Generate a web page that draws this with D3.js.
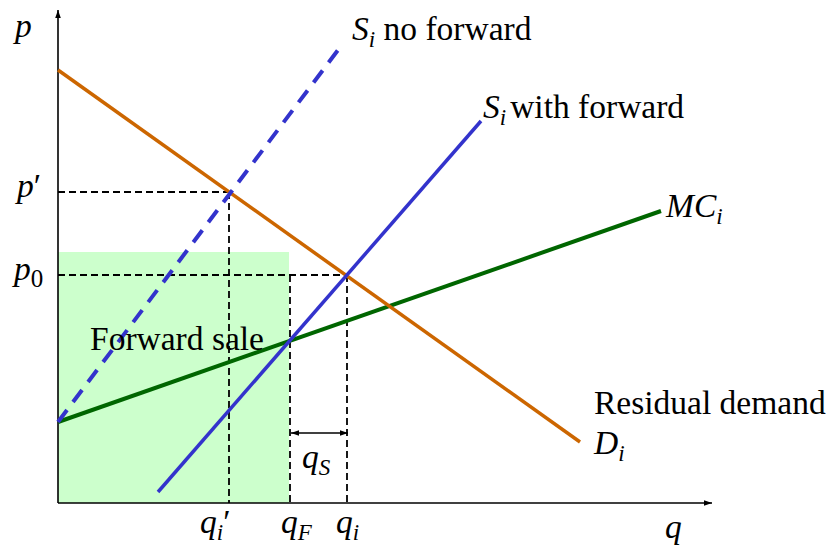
<!DOCTYPE html>
<html>
<head>
<meta charset="utf-8">
<script src="https://cdn.jsdelivr.net/npm/d3@7"></script>
<style>
  body { margin: 0; background: #fff; }
  text { font-family: "Liberation Serif", "Times New Roman", serif; fill: #000; }
</style>
</head>
<body>
<svg id="chart"></svg>
<script>
// canvas
let width = 829, height = 550;

// curves (q, p)
const demand = [{q: 0, p: 43.3}, {q: 52.2, p: 6.1}];
const supplyNoForward = [{q: 0, p: 8.1}, {q: 28.0, p: 45.3}];
const supplyWithForward = [{q: 10.0, p: 1.1}, {q: 42.3, p: 38.2}];
const marginalCost = [{q: 0, p: 8.1}, {q: 60.3, p: 29.2}];

// key quantities / prices
const qPrime = 17.1, pPrime = 31.1;
const qF = 23.2, qI = 28.9, p0 = 22.8;
const forwardTop = 25.1;
const qsArrowP = 7.0;

// scales
let x = d3.scaleLinear().domain([0, 65.4]).range([58, 712]);
let y = d3.scaleLinear().domain([0, 49.3]).range([503, 10]);

const svg = d3.select("#chart")
    .attr("width", width)
    .attr("height", height);

const defs = svg.append("defs");
defs.append("marker")
    .attr("id", "arrow")
    .attr("viewBox", "0 0 10 10")
    .attr("refX", 10).attr("refY", 5)
    .attr("markerWidth", 8).attr("markerHeight", 8)
    .attr("markerUnits", "userSpaceOnUse")
    .attr("orient", "auto-start-reverse")
    .append("path").attr("d", "M0,1.5L10,5L0,8.5Z").attr("fill", "#000");

// forward sale area
svg.append("rect")
    .attr("x", x(0))
    .attr("y", y(forwardTop))
    .attr("width", x(qF) - x(0) - 1)
    .attr("height", y(0) - y(forwardTop))
    .attr("fill", "#ccffcc");

// dashed guides
const guides = [
  [[0, pPrime], [qPrime, pPrime]],
  [[qPrime, pPrime], [qPrime, 0]],
  [[0, p0], [qI, p0]],
  [[qI, p0], [qI, 0]],
  [[qF, p0], [qF, 0]]
];
svg.selectAll(".guide")
    .data(guides)
    .enter().append("line")
    .attr("class", "guide")
    .attr("x1", d => x(d[0][0])).attr("y1", d => y(d[0][1]))
    .attr("x2", d => x(d[1][0])).attr("y2", d => y(d[1][1]))
    .attr("stroke", "#000")
    .attr("stroke-width", 1.8)
    .attr("stroke-dasharray", "7,4");

// axes
svg.append("line")
    .attr("x1", x(0)).attr("y1", y(0))
    .attr("x2", x(0)).attr("y2", y(49.3))
    .attr("stroke", "#000").attr("stroke-width", 1.6)
    .attr("marker-end", "url(#arrow)");
svg.append("line")
    .attr("x1", x(0)).attr("y1", y(0))
    .attr("x2", x(65.4)).attr("y2", y(0))
    .attr("stroke", "#000").attr("stroke-width", 1.6)
    .attr("marker-end", "url(#arrow)");

// curves
let line = d3.line().x(d => x(d.q)).y(d => y(d.p));

svg.append("path").datum(marginalCost)
    .attr("d", line).attr("fill", "none")
    .attr("stroke", "#006600").attr("stroke-width", 4);
svg.append("path").datum(demand)
    .attr("d", line).attr("fill", "none")
    .attr("stroke", "#cc6600").attr("stroke-width", 3.5);
svg.append("path").datum(supplyNoForward)
    .attr("d", line).attr("fill", "none")
    .attr("stroke", "#3333cc").attr("stroke-width", 4)
    .attr("stroke-dasharray", "15,10");
svg.append("path").datum(supplyWithForward)
    .attr("d", line).attr("fill", "none")
    .attr("stroke", "#3333cc").attr("stroke-width", 3.5);

// q_S double arrow
svg.append("line")
    .attr("x1", x(qF) + 1).attr("y1", y(qsArrowP))
    .attr("x2", x(qI) + 1).attr("y2", y(qsArrowP))
    .attr("stroke", "#000").attr("stroke-width", 1.3)
    .attr("marker-start", "url(#arrow)")
    .attr("marker-end", "url(#arrow)");

// labels: main symbol + optional subscript + trailing text
function label(px, py, main, sub, rest, opts) {
  opts = opts || {};
  let t = svg.append("text")
      .attr("x", px).attr("y", py)
      .style("font-size", "33.5px");
  if (main) t.append("tspan").style("font-style", opts.upright ? "normal" : "italic").text(main);
  if (sub) {
    t.append("tspan")
        .attr("dy", 7)
        .style("font-size", opts.subSize || "23px")
        .style("font-style", opts.subUpright ? "normal" : "italic")
        .text(sub);
  }
  if (rest) {
    t.append("tspan")
        .attr("dy", sub ? -7 : 0)
        .attr("dx", opts.gap || 0)
        .style("font-style", "normal")
        .text(rest);
  }
  return t;
}

label(15, 37, "p");
label(665, 538, "q");
label(17, y(pPrime) + 5, "p", null, "\u2032");
label(14, y(p0) + 5, "p", "0", null, {subUpright: true, subSize: "25px"});

label(352, 40, "S", "i", " no forward");
label(483, 118, "S", "i", "with forward", {gap: 4});
label(666, 217, "MC", "i");
label(594, 414, null, null, "Residual demand");
label(594, 454, "D", "i");
label(90, 350, null, null, "Forward sale");

label(x(qPrime) - 29, 533, "q", "i", "\u2032");
label(x(qF) - 9, 533, "q", "F");
label(x(qI) - 11, 533, "q", "i");
label(x(qF) + 12, 468, "q", "S");
</script>
</body>
</html>
